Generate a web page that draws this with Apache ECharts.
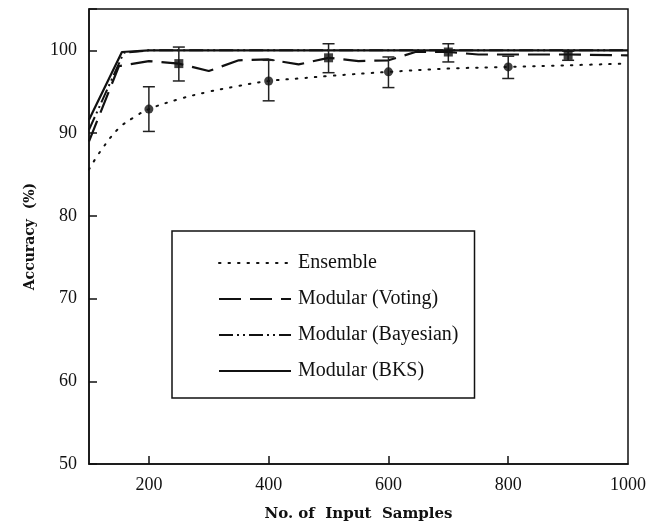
<!DOCTYPE html>
<html>
<head>
<meta charset="utf-8">
<script src="https://cdn.jsdelivr.net/npm/echarts@6/dist/echarts.min.js"></script>
<style>html,body{margin:0;padding:0;background:#fff}#c{width:658px;height:527px}</style>
</head>
<body>
<div id="c"></div>
<script>
// ---- data ----
const ensembleX = [100, 120, 150, 175, 200, 250, 300, 350, 400, 450, 500, 600, 700, 800, 900, 1000];
const ensembleY = [85.6, 87.9, 90.6, 91.9, 92.9, 94.1, 95.0, 95.7, 96.3, 96.6, 96.9, 97.4, 97.8, 98.0, 98.2, 98.4];
const votingX = [100, 150, 200, 250, 300, 350, 400, 450, 500, 550, 600, 645, 700, 750, 800, 900, 1000];
const votingY = [89.0, 98.1, 98.7, 98.4, 97.5, 98.8, 98.9, 98.3, 99.1, 98.7, 98.8, 99.8, 99.8, 99.5, 99.5, 99.5, 99.4];
const bayesX = [100, 158, 200, 1000];
const bayesY = [90.4, 99.7, 100, 100];
const bksX = [100, 155, 200, 1000];
const bksY = [91.6, 99.8, 100, 100];

// error bars: x, mean, low, high
const ensembleErrX = [200, 400, 600, 800];
const ensembleErrMean = [92.9, 96.3, 97.4, 98.0];
const ensembleErrLow = [90.2, 93.9, 95.5, 96.6];
const ensembleErrHigh = [95.6, 98.8, 99.2, 99.3];
const votingErrX = [250, 500, 700, 900];
const votingErrMean = [98.4, 99.1, 99.8, 99.4];
const votingErrLow = [96.3, 97.3, 98.6, 98.8];
const votingErrHigh = [100.4, 100.8, 100.8, 99.9];

const xTickValues = [200, 400, 600, 800];
const xLabelValues = [200, 400, 600, 800, 1000];
const seriesNames = ['Ensemble', 'Modular (Voting)', 'Modular (Bayesian)', 'Modular (BKS)'];

// ---- build ----
const zip = (a, b) => a.map((v, i) => [v, b[i]]);
const errData = (x, lo, hi) => x.map((v, i) => [v, lo[i], hi[i]]);

function errRender(params, api) {
  const x = api.value(0);
  const lo = api.coord([x, api.value(1)]);
  const hi = api.coord([x, api.value(2)]);
  const hw = 6;
  const st = { stroke: '#222', lineWidth: 1.5, fill: null };
  return {
    type: 'group',
    children: [
      { type: 'line', shape: { x1: lo[0], y1: lo[1], x2: hi[0], y2: hi[1] }, style: st },
      { type: 'line', shape: { x1: lo[0] - hw, y1: lo[1], x2: lo[0] + hw, y2: lo[1] }, style: st },
      { type: 'line', shape: { x1: hi[0] - hw, y1: hi[1], x2: hi[0] + hw, y2: hi[1] }, style: st }
    ]
  };
}

const serif = '"Liberation Serif", "Times New Roman", serif';
const titleFont = '"DejaVu Serif", serif';

const option = {
  animation: false,
  backgroundColor: '#fff',
  grid: { left: 89, right: 30, top: 9, bottom: 61, show: true, borderColor: '#111', borderWidth: 1.5, backgroundColor: 'transparent' },
  xAxis: {
    type: 'value', min: 100, max: 1000,
    name: 'No. of  Input  Samples', nameLocation: 'middle', nameGap: 43,
    nameTextStyle: { fontFamily: titleFont, fontWeight: 'bold', fontSize: 15, color: '#111' },
    axisLine: { show: true, lineStyle: { color: '#111', width: 1.5 } },
    axisTick: { show: true, inside: true, length: 8, customValues: xTickValues, lineStyle: { color: '#111', width: 1.5 } },
    axisLabel: { customValues: xLabelValues, fontFamily: serif, fontSize: 18, color: '#111', margin: 12,
      formatter: v => String(v) },
    splitLine: { show: false }
  },
  yAxis: {
    type: 'value', min: 50, max: 105, interval: 10,
    name: 'Accuracy  (%)', nameLocation: 'middle', nameGap: 52, nameRotate: 90,
    nameTextStyle: { fontFamily: titleFont, fontWeight: 'bold', fontSize: 14, color: '#111' },
    axisLine: { show: true, lineStyle: { color: '#111', width: 1.5 } },
    axisTick: { show: true, inside: true, length: 8, lineStyle: { color: '#111', width: 1.5 } },
    axisLabel: { fontFamily: serif, fontSize: 18, color: '#111', margin: 12,
      formatter: v => (v > 100 ? '' : String(v)) },
    splitLine: { show: false }
  },
  legend: {
    data: seriesNames,
    orient: 'vertical', left: 172, top: 231,
    padding: [22, 16, 17, 46],
    itemWidth: 72, itemHeight: 20, itemGap: 16,
    borderColor: '#111', borderWidth: 1.5, backgroundColor: '#fff',
    itemStyle: { opacity: 0 },
    textStyle: { fontFamily: serif, fontSize: 20, color: '#111', padding: [0, 0, 0, 2] }
  },
  series: [
    { name: seriesNames[0], type: 'line', data: zip(ensembleX, ensembleY), smooth: 0.4, symbol: 'none',
      itemStyle: { color: '#111' },
      lineStyle: { color: '#111', width: 2, type: [1.5, 8], cap: 'round' }, z: 3 },
    { name: seriesNames[1], type: 'line', data: zip(votingX, votingY), symbol: 'none',
      itemStyle: { color: '#111' },
      lineStyle: { color: '#111', width: 2.2, type: [22, 9] }, z: 3 },
    { name: seriesNames[2], type: 'line', data: zip(bayesX, bayesY), symbol: 'none',
      itemStyle: { color: '#111' },
      lineStyle: { color: '#111', width: 2, type: [14, 4, 2, 4, 2, 4] }, z: 3 },
    { name: seriesNames[3], type: 'line', data: zip(bksX, bksY), symbol: 'none',
      itemStyle: { color: '#111' },
      lineStyle: { color: '#111', width: 2.2 }, z: 3 },
    { name: 'ensErr', type: 'custom', renderItem: errRender, data: errData(ensembleErrX, ensembleErrLow, ensembleErrHigh), z: 4 },
    { name: 'votErr', type: 'custom', renderItem: errRender, data: errData(votingErrX, votingErrLow, votingErrHigh), z: 4 },
    { name: 'ensMark', type: 'scatter', data: zip(ensembleErrX, ensembleErrMean), symbol: 'circle', symbolSize: 9,
      itemStyle: { color: '#111' }, z: 5 },
    { name: 'votMark', type: 'scatter', data: zip(votingErrX, votingErrMean), symbol: 'rect', symbolSize: 9,
      itemStyle: { color: '#111' }, z: 5 }
  ]
};

const chart = echarts.init(document.getElementById('c'), null, { renderer: 'canvas' });
chart.setOption(option);
</script>
</body>
</html>
